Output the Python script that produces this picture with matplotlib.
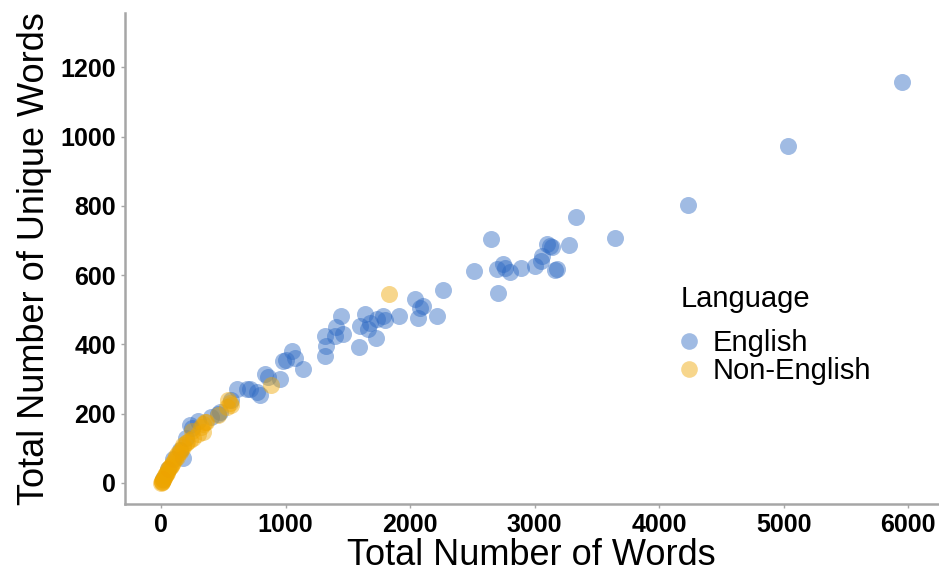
import matplotlib
matplotlib.use("Agg")
import matplotlib.pyplot as plt
from matplotlib.lines import Line2D

# Word counts per text: total words vs unique words
english_total = [5952, 5036, 4233, 3647, 3333, 3277, 3100, 3125, 3140, 3060,
                 3165, 3181, 3004, 3050, 2892, 2747, 2699, 2803, 2760, 2514,
                 2651, 2707, 2265, 2040, 2104, 2064, 2217, 2080, 1912, 1783,
                 1800, 1735, 1638, 1727, 1590, 1598, 1679, 1660, 1446, 1406,
                 1317, 1398, 1462, 1325, 1317, 1052, 1076, 1000, 1141, 980,
                 835, 956, 860, 795, 715, 771, 691, 610, 560, 474,
                 458, 249, 233, 200, 177, 150, 100, 60, 20, 300, 400]
english_unique = [1157, 974, 803, 707, 768, 687, 690, 685, 680, 655,
                  614, 617, 626, 640, 620, 632, 617, 609, 620, 611,
                  704, 548, 557, 530, 510, 475, 481, 505, 481, 481,
                  470, 472, 487, 417, 391, 452, 463, 445, 481, 449,
                  423, 423, 429, 394, 365, 380, 362, 355, 328, 351,
                  313, 299, 305, 255, 270, 261, 270, 270, 240, 206,
                  200, 159, 168, 130, 72, 95, 70, 40, 10, 180, 190]

nonenglish_total = [1831, 884, 554, 540, 530, 458, 353, 340, 249, 337,
                    300, 233, 200, 177, 160, 150, 128, 110, 100, 90,
                    72, 60, 50, 40, 30, 25, 16, 10, 5, 0,
                    8, 20, 35, 45, 65, 80, 120, 140, 180, 210,
                    260, 320, 360, 560]
nonenglish_unique = [545, 284, 232, 240, 220, 197, 177, 170, 150, 148,
                     140, 125, 115, 104, 95, 90, 75, 70, 60, 55,
                     46, 40, 30, 25, 20, 15, 9, 5, 2, 0,
                     3, 12, 22, 28, 42, 50, 78, 85, 110, 118,
                     130, 160, 175, 225]

languages = ["English", "Non-English"]
colors = ["#2D69C3", "#EFA500"]

plt.rcParams["font.family"] = ["Liberation Sans", "DejaVu Sans"]

fig = plt.figure(figsize=(9.39, 5.75), dpi=100)
ax = fig.add_axes([0.133, 0.1235, 0.866, 0.854])

ax.scatter(english_total, english_unique, s=150, color=colors[0],
           alpha=0.45, linewidths=0, zorder=3)
ax.scatter(nonenglish_total, nonenglish_unique, s=150, color=colors[1],
           alpha=0.45, linewidths=0, zorder=4)

ax.set_xlim(-290, 6240)
ax.set_ylim(-61, 1357)
ax.set_xticks([0, 1000, 2000, 3000, 4000, 5000, 6000])
ax.set_yticks([0, 200, 400, 600, 800, 1000, 1200])

for side in ("top", "right"):
    ax.spines[side].set_visible(False)
for side in ("left", "bottom"):
    ax.spines[side].set_color("#A6A6A6")
    ax.spines[side].set_linewidth(1.8)

ax.tick_params(axis="both", colors="#A6A6A6", length=3, width=1,
               labelcolor="black", labelsize=18)
for lbl in ax.get_xticklabels() + ax.get_yticklabels():
    lbl.set_fontweight("bold")

ax.set_xlabel("Total Number of Words", fontsize=26, labelpad=1)
ax.set_ylabel("Total Number of Unique Words", fontsize=26, labelpad=6)

# Legend: title as its own text, entries below it
fig.text(0.725, 0.466, "Language", fontsize=21, va="baseline", ha="left")
handles = [Line2D([], [], marker="o", linestyle="none", markersize=12,
                  markerfacecolor=c, markeredgewidth=0, alpha=0.45)
           for c in colors]
leg = fig.legend(handles, languages, loc="upper left",
                 bbox_to_anchor=(0.722, 0.428), frameon=False, fontsize=21,
                 borderpad=0, labelspacing=0.0, borderaxespad=0,
                 handlelength=0.75, handletextpad=0.45)

fig.savefig("out.png", dpi=100)
